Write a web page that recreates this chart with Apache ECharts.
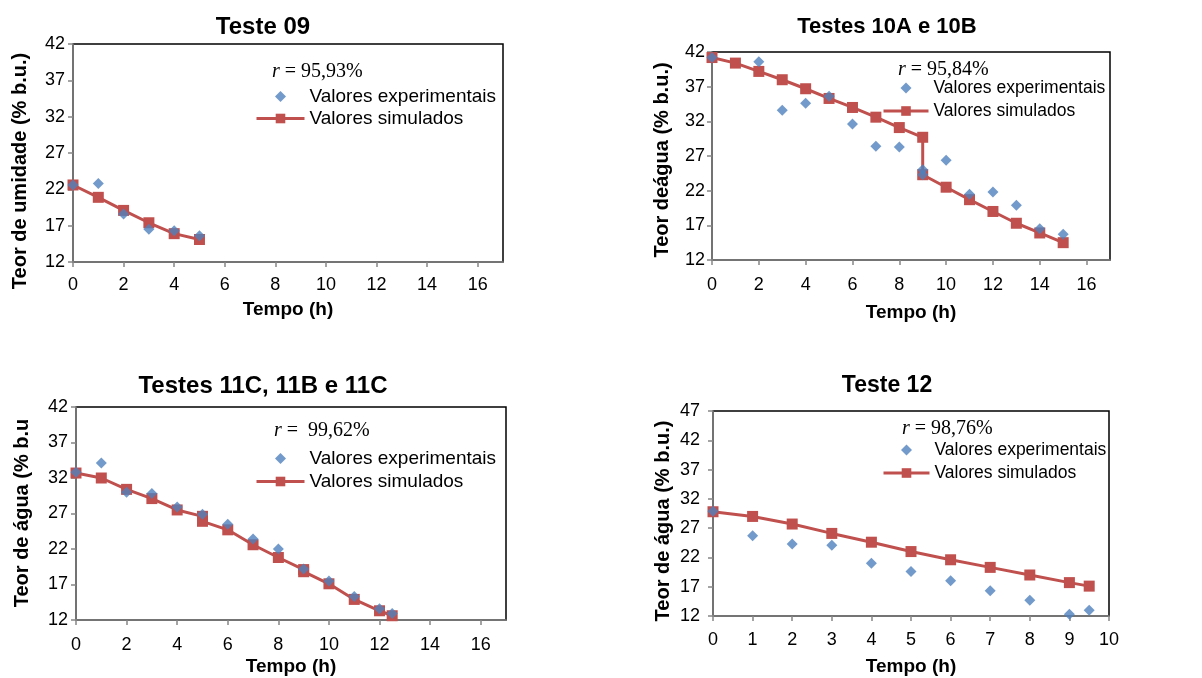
<!DOCTYPE html>
<html>
<head>
<meta charset="utf-8">
<script src="https://cdn.jsdelivr.net/npm/echarts@6/dist/echarts.min.js"></script>
<style>
html,body{margin:0;padding:0;background:#fff;}
#chart{width:1202px;height:678px;}
</style>
</head>
<body>
<div id="chart"></div>
<script>
// ---------- DATA ----------
const xTicks16 = [0, 2, 4, 6, 8, 10, 12, 14, 16];
const xTicks10 = [0, 1, 2, 3, 4, 5, 6, 7, 8, 9, 10];
const yTicks42 = [12, 17, 22, 27, 32, 37, 42];
const yTicks47 = [12, 17, 22, 27, 32, 37, 42, 47];

// Teste 09
const t09Time = [0, 1, 2, 3, 4, 5];
const t09Exp  = [22.6, 22.8, 18.6, 16.5, 16.3, 15.6];
const t09Sim  = [22.6, 20.9, 19.1, 17.4, 15.9, 15.1];

// Testes 10A e 10B
const t10ExpTime = [0, 2, 3, 4, 5, 6, 7, 8, 9, 9, 10, 11, 12, 13, 14, 15];
const t10Exp     = [41.2, 40.6, 33.6, 34.6, 35.6, 31.6, 28.4, 28.3, 25.0, 24.3, 26.4, 21.5, 21.8, 19.9, 16.5, 15.7];
const t10SimTime = [0, 1, 2, 3, 4, 5, 6, 7, 8, 9, 9, 10, 11, 12, 13, 14, 15];
const t10Sim     = [41.2, 40.4, 39.2, 38.0, 36.7, 35.3, 34.0, 32.6, 31.1, 29.7, 24.3, 22.5, 20.7, 19.0, 17.3, 15.9, 14.5];

// Testes 11C, 11B e 11C
const t11ExpTime = [0, 1, 2, 3, 4, 5, 6, 7, 8, 9, 10, 11, 12, 12.5];
const t11Exp     = [32.8, 34.1, 30.0, 29.8, 27.9, 26.9, 25.5, 23.4, 22.0, 19.2, 17.5, 15.3, 13.6, 12.9];
const t11SimTime = [0, 1, 2, 3, 4, 5, 5, 6, 7, 8, 9, 9, 10, 11, 12, 12.5];
const t11Sim     = [32.7, 32.0, 30.4, 29.1, 27.5, 26.6, 25.9, 24.7, 22.6, 20.8, 19.1, 18.8, 17.1, 14.9, 13.3, 12.6];

// Teste 12
const t12Time = [0, 1, 2, 3, 4, 5, 6, 7, 8, 9, 9.5];
const t12Exp  = [29.9, 25.7, 24.3, 24.1, 21.0, 19.6, 18.0, 16.3, 14.7, 12.3, 13.0];
const t12Sim  = [29.8, 29.0, 27.7, 26.1, 24.6, 23.0, 21.6, 20.3, 19.0, 17.7, 17.1];

const titles  = ['Teste 09', 'Testes 10A e 10B', 'Testes 11C, 11B e 11C', 'Teste 12'];
const yNames  = ['Teor de umidade (% b.u.)', 'Teor deágua (% b.u.)', 'Teor de água (% b.u', 'Teor de água (% b.u.)'];
const rTexts  = ['{it|r} = 95,93%', '{it|r} = 95,84%', '{it|r} =  99,62%', '{it|r} = 98,76%'];
const xName   = 'Tempo (h)';
const expName = 'Valores experimentais';
const simName = 'Valores simulados';

// ---------- HELPERS ----------
const FONT = '"Liberation Sans", Arial, sans-serif';
const SERIF = '"Liberation Serif", "DejaVu Serif", serif';
const BLUE = '#4F81BD';
const RED = '#C0504D';
const AXIS = '#868686';

function pairs(xs, ys) { return xs.map((x, i) => [x, ys[i]]); }

// legend icon: a small diamond centred in an invisible box of the legend item's size
function diamondIcon(w, h) {
  const cx = w / 2, r = h / 2 - 0.5;
  return 'path://M0,0M' + w + ',' + h +
    'M' + cx + ',' + (h / 2 - r) + 'L' + (cx + r) + ',' + (h / 2) +
    'L' + cx + ',' + (h / 2 + r) + 'L' + (cx - r) + ',' + (h / 2) + 'Z';
}

function grid(left, top, width, height) {
  return {left, top, width, height, show: true, borderColor: '#000', borderWidth: 1.5, backgroundColor: 'transparent'};
}

function xAx(gi, max, interval, ticks, labelMargin, nameGap) {
  return {
    type: 'value', gridIndex: gi, min: 0, max: max, interval: interval,
    axisLine: {show: true, onZero: false, lineStyle: {color: AXIS, width: 1.5}},
    axisTick: {show: true, length: 5, customValues: ticks, lineStyle: {color: AXIS, width: 1.5}},
    axisLabel: {customValues: ticks, fontSize: 18, color: '#000', fontFamily: FONT, margin: labelMargin},
    splitLine: {show: false},
    name: xName, nameLocation: 'middle', nameGap: nameGap,
    nameTextStyle: {fontWeight: 'bold', fontSize: 19, fontFamily: FONT, color: '#000'}
  };
}

function yAx(gi, min, max, ticks, labelMargin) {
  return {
    type: 'value', gridIndex: gi, min: min, max: max, interval: 5,
    axisLine: {show: true, onZero: false, lineStyle: {color: AXIS, width: 1.5}},
    axisTick: {show: true, length: 5, customValues: ticks, lineStyle: {color: AXIS, width: 1.5}},
    axisLabel: {customValues: ticks, fontSize: 18, color: '#000', fontFamily: FONT, margin: labelMargin},
    splitLine: {show: false}
  };
}

function simSeries(i, data) {
  return {
    name: simName, type: 'line', xAxisIndex: i, yAxisIndex: i, data: data,
    symbol: 'rect', symbolSize: 11, showAllSymbol: true, z: 2,
    lineStyle: {color: RED, width: 3}, itemStyle: {color: RED}, animation: false
  };
}
function expSeries(i, data) {
  return {
    name: expName, type: 'scatter', xAxisIndex: i, yAxisIndex: i, data: data,
    symbol: 'diamond', symbolSize: [11, 11], z: 3,
    itemStyle: {color: BLUE}, animation: false
  };
}

function legend(left, top, itemWidth, gap, fs) {
  return {
    left, top, orient: 'vertical', padding: 0, itemWidth: itemWidth, itemHeight: 12, itemGap: gap,
    data: [{name: expName, icon: diamondIcon(itemWidth, 12)}, {name: simName}],
    selectedMode: false,
    lineStyle: {width: 3},
    textStyle: {fontSize: fs, color: '#000', fontFamily: FONT, lineHeight: 18}
  };
}

function tText(text, x, y, size) {
  return {type: 'text', x, y, silent: true,
    style: {text, fill: '#000', font: 'bold ' + size + 'px ' + FONT, align: 'center', verticalAlign: 'middle'}};
}
function yText(text, x, y) {
  return {type: 'text', x, y, rotation: Math.PI / 2, silent: true,
    style: {text, fill: '#000', font: 'bold 20px ' + FONT, align: 'center', verticalAlign: 'middle'}};
}
function rText(text, x, y) {
  return {type: 'text', x, y, silent: true,
    style: {text, fill: '#000', font: '20px ' + SERIF, align: 'left', verticalAlign: 'middle',
      rich: {it: {fontStyle: 'italic', fontSize: 20, fontFamily: SERIF, fill: '#000'}}}};
}

// ---------- OPTION ----------
const option = {
  animation: false,
  backgroundColor: '#fff',
  grid: [
    grid(73, 44, 430, 218),
    grid(712, 52, 398, 208),
    grid(76, 407, 430, 213),
    grid(713, 411, 396, 205)
  ],
  xAxis: [
    xAx(0, 17, 2, xTicks16, 14, 38),
    xAx(1, 17, 2, xTicks16, 16, 43),
    xAx(2, 17, 2, xTicks16, 16, 37),
    xAx(3, 10, 1, xTicks10, 15, 41)
  ],
  yAxis: [
    yAx(0, 12, 42, yTicks42, 8),
    yAx(1, 12, 42, yTicks42, 7),
    yAx(2, 12, 42, yTicks42, 8),
    yAx(3, 12, 47, yTicks47, 13)
  ],
  legend: [
    legend(255, 87, 48, 3, 19),
    legend(882, 79, 45, 5, 17.5),
    legend(255, 449, 48, 4, 19),
    legend(882, 441, 46, 5, 17.5)
  ],
  series: [
    simSeries(0, pairs(t09Time, t09Sim)),
    expSeries(0, pairs(t09Time, t09Exp)),
    simSeries(1, pairs(t10SimTime, t10Sim)),
    expSeries(1, pairs(t10ExpTime, t10Exp)),
    simSeries(2, pairs(t11SimTime, t11Sim)),
    expSeries(2, pairs(t11ExpTime, t11Exp)),
    simSeries(3, pairs(t12Time, t12Sim)),
    expSeries(3, pairs(t12Time, t12Exp))
  ],
  graphic: [
    tText(titles[0], 263, 27, 24),
    tText(titles[1], 887, 27, 22),
    tText(titles[2], 263, 386, 24),
    tText(titles[3], 887, 386, 23),
    yText(yNames[0], 20, 171),
    yText(yNames[1], 662, 160),
    yText(yNames[2], 22, 513),
    yText(yNames[3], 663, 521),
    rText(rTexts[0], 272, 72),
    rText(rTexts[1], 898, 70),
    rText(rTexts[2], 274, 431),
    rText(rTexts[3], 902, 429)
  ]
};

const chart = echarts.init(document.getElementById('chart'), null, {renderer: 'canvas'});
chart.setOption(option);
</script>
</body>
</html>
